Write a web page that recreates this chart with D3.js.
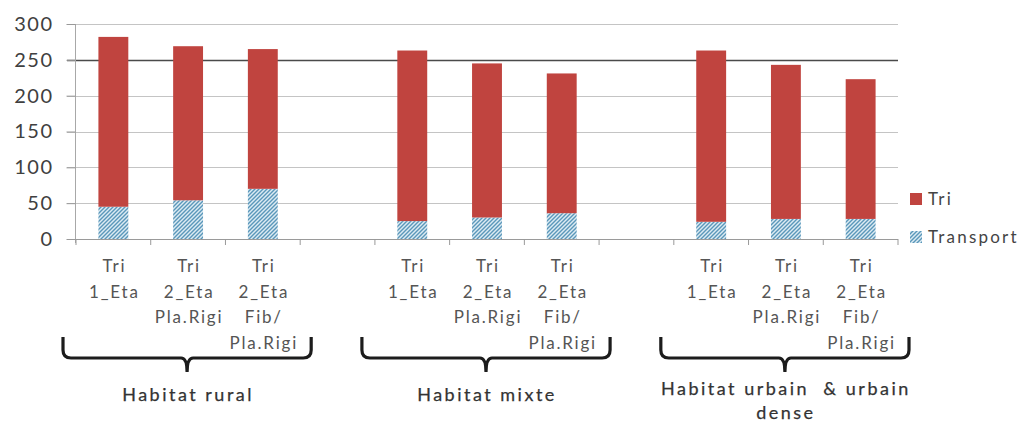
<!DOCTYPE html>
<html><head><meta charset="utf-8">
<script src="https://cdn.jsdelivr.net/npm/d3@7"></script>
<style>html,body{margin:0;padding:0;background:#fff;} svg{display:block;}</style>
</head><body>
<script>
const categories = ["r1","r2","r3","gap1","m1","m2","m3","gap2","u1","u2","u3"];
const categoryLabels = [
  ["Tri","1_Eta"], ["Tri","2_Eta","Pla.Rigi"], ["Tri","2_Eta","Fib/","Pla.Rigi"], [],
  ["Tri","1_Eta"], ["Tri","2_Eta","Pla.Rigi"], ["Tri","2_Eta","Fib/","Pla.Rigi"], [],
  ["Tri","1_Eta"], ["Tri","2_Eta","Pla.Rigi"], ["Tri","2_Eta","Fib/","Pla.Rigi"]
];
const transport = [45, 54, 70, 0, 25, 30, 36, 0, 24, 28, 28];
const tri = [237, 215, 195, 0, 238, 215, 195, 0, 239, 215, 195];
const seriesNames = ["Transport", "Tri"];
const yTicks = [0, 50, 100, 150, 200, 250, 300];
const groups = [
  {name: ["Habitat rural"], cats: ["r1","r3"]},
  {name: ["Habitat mixte"], cats: ["m1","m3"]},
  {name: ["Habitat urbain  & urbain", "dense"], cats: ["u1","u3"]}
];

const W = 1026, H = 423;
const svg = d3.select("body").append("svg").attr("width", W).attr("height", H);
const FONT = "Lato, 'Open Sans', sans-serif";

const defs = svg.append("defs");
const pat = defs.append("pattern").attr("id","hatch").attr("patternUnits","userSpaceOnUse")
  .attr("width",4).attr("height",4);
pat.append("rect").attr("width",4).attr("height",4).attr("fill","#dcebf3");
pat.append("path").attr("d","M-1,1 l2,-2 M0,4 l4,-4 M3,5 l2,-2")
  .attr("stroke","#5a97ba").attr("stroke-width",1.4);

const x = d3.scaleBand().domain(categories).range([76, 898]).paddingInner(0.6).paddingOuter(0.3);
const y = d3.scaleLinear().domain([0, 300]).range([239, 24]);

// gridlines
svg.append("g").selectAll("line").data(yTicks.filter(d => d > 0)).join("line")
  .attr("x1", 67).attr("x2", 898)
  .attr("y1", d => Math.round(y(d)) + 0.5).attr("y2", d => Math.round(y(d)) + 0.5)
  .attr("stroke", d => d === 250 ? "#4a4a4a" : "#c4c4c4").attr("stroke-width", d => d === 250 ? 1.4 : 1.2);

// y axis
const yAxis = d3.axisLeft(y).tickValues(yTicks).tickSize(9).tickPadding(13);
const yg = svg.append("g").attr("transform","translate(75.5,0)").call(yAxis);
yg.select(".domain").attr("stroke","#a8a8a8").attr("d", `M0,${y(300)}V${y(0)+4}`);
yg.selectAll(".tick line").attr("stroke","#999");
yg.selectAll(".tick text").attr("font-family", FONT).attr("font-size", 20).attr("fill","#404040")
  .attr("letter-spacing", 1.5);

// stacked bars
const rows = categories.map((c, i) => ({cat: c, Transport: transport[i], Tri: tri[i]}));
const stacked = d3.stack().keys(seriesNames)(rows);
const fills = {Transport: "url(#hatch)", Tri: "#c0443f"};
svg.append("g").selectAll("g").data(stacked).join("g")
  .attr("fill", s => fills[s.key])
  .selectAll("rect").data(s => s.filter(d => d[1] > d[0])).join("rect")
  .attr("x", d => x(d.data.cat)).attr("width", x.bandwidth())
  .attr("y", d => y(d[1])).attr("height", d => y(d[0]) - y(d[1]));

// x axis line and ticks at category boundaries
const x0 = x.range()[0], step = x.step();
svg.append("line").attr("x1", 67).attr("x2", 898).attr("y1", 239.5).attr("y2", 239.5)
  .attr("stroke","#9a9a9a").attr("stroke-width",1.2);
svg.append("g").selectAll("line").data(d3.range(categories.length + 1)).join("line")
  .attr("x1", i => x0 + i*step).attr("x2", i => x0 + i*step)
  .attr("y1", 239).attr("y2", 245).attr("stroke","#999");

// category labels
const lab = svg.append("g").attr("font-family", FONT).attr("font-size", 17).attr("fill","#555")
  .attr("text-anchor","middle").attr("letter-spacing", 1.8);
categories.forEach((c, i) => {
  categoryLabels[i].forEach((t, j) => {
    lab.append("text").attr("x", x(c) + x.bandwidth()/2 + 1).attr("y", 272 + j*25.5).text(t);
  });
});

// braces
groups.forEach(g => {
  const a = x(g.cats[0]) - (step - x.bandwidth())/2 - 13;
  const b = x(g.cats[1]) + x.bandwidth() + (step - x.bandwidth())/2 + 11;
  const c = (a + b) / 2;
  const top = 337, hy = 358, tip = 372, r = 8;
  const p = `M${a},${top} L${a},${hy-r} Q${a},${hy} ${a+r},${hy} L${c-6},${hy} Q${c},${hy} ${c},${tip} Q${c},${hy} ${c+6},${hy} L${b-r},${hy} Q${b},${hy} ${b},${hy-r} L${b},${top}`;
  svg.append("path").attr("d", p).attr("fill","none").attr("stroke","#1c1c1c").attr("stroke-width",3.2);
  const ty = g.name.length > 1 ? 395 : 401;
  g.name.forEach((t, j) => {
    svg.append("text").attr("x", c + 1).attr("y", ty + j*24).attr("text-anchor","middle")
      .attr("font-family", FONT).attr("font-size", 18).attr("fill","#333")
      .attr("stroke","#333").attr("stroke-width",0.25).attr("letter-spacing", 2.5)
      .attr("xml:space","preserve").style("white-space","pre").text(t);
  });
});

// legend
const legendItems = [{name:"Tri", fill: fills.Tri, y: 199}, {name:"Transport", fill: fills.Transport, y: 237}];
const lg = svg.append("g");
legendItems.forEach(it => {
  lg.append("rect").attr("x", 910).attr("y", it.y - 6).attr("width", 12).attr("height", 12).attr("fill", it.fill);
  lg.append("text").attr("x", 928).attr("y", it.y + 6).attr("font-family", FONT).attr("font-size", 17)
    .attr("letter-spacing", 2.2).attr("fill","#444").text(it.name);
});
</script>
</body></html>
